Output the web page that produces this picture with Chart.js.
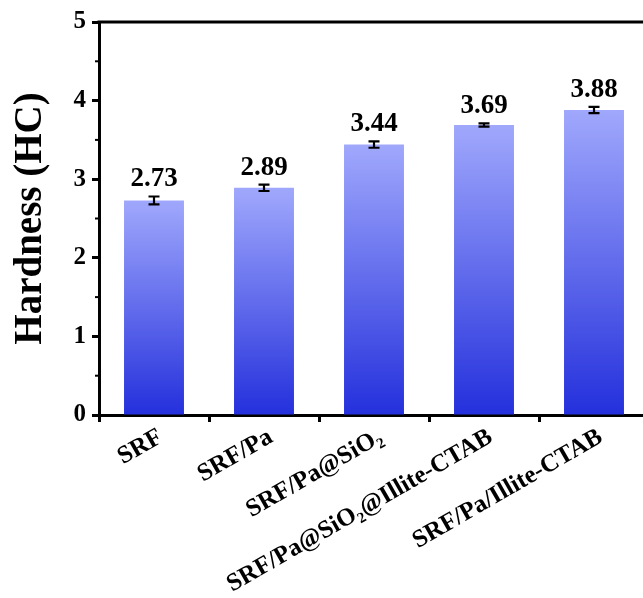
<!DOCTYPE html>
<html>
<head>
<meta charset="utf-8">
<script src="https://cdn.jsdelivr.net/npm/chart.js@4.4.1/dist/chart.umd.min.js"></script>
<style>
    html, body { margin: 0; padding: 0; background: #fff; overflow: hidden; }
</style>
</head>
<body>
<canvas id="hardnessChart" width="660" height="598"></canvas>
<script>
const samples = ['SRF', 'SRF/Pa', 'SRF/Pa@SiO\u2082', 'SRF/Pa@SiO\u2082@Illite-CTAB', 'SRF/Pa/Illite-CTAB'];
const hardness = [2.73, 2.89, 3.44, 3.69, 3.88];
const hardnessErr = [0.05, 0.04, 0.04, 0.02, 0.04];
const yTicks = [0, 1, 2, 3, 4, 5];

const serif = "'Liberation Serif', 'DejaVu Serif', serif";

// bottom-to-top gradient for every bar
function barGradient(ctx) {
    const chart = ctx.chart;
    const y = chart.scales.y;
    if (!chart.chartArea || !y || !ctx.parsed) return '#6c72ee';
    const top = y.getPixelForValue(ctx.parsed.y);
    const bottom = y.getPixelForValue(0);
    if (!isFinite(top) || !isFinite(bottom)) return '#6c72ee';
    const g = chart.ctx.createLinearGradient(0, top, 0, bottom);
    g.addColorStop(0, 'rgb(160,168,252)');
    g.addColorStop(1, 'rgb(36,48,220)');
    return g;
}

const extras = {
    id: 'extras',
    afterDatasetsDraw(chart) {
        const c = chart.ctx;
        const x = chart.scales.x;
        const y = chart.scales.y;
        const area = chart.chartArea;
        c.save();
        c.strokeStyle = '#000';

        // error bars
        c.lineWidth = 2.2;
        hardness.forEach((v, i) => {
            const px = x.getPixelForValue(i);
            const hi = y.getPixelForValue(v + hardnessErr[i]);
            const lo = y.getPixelForValue(v - hardnessErr[i]);
            c.beginPath();
            c.moveTo(px, hi); c.lineTo(px, lo);
            c.moveTo(px - 5.5, hi); c.lineTo(px + 5.5, hi);
            c.moveTo(px - 5.5, lo); c.lineTo(px + 5.5, lo);
            c.stroke();
        });

        // value labels
        c.fillStyle = '#000';
        c.font = 'bold 27px ' + serif;
        c.textAlign = 'center';
        c.textBaseline = 'alphabetic';
        hardness.forEach((v, i) => {
            const px = x.getPixelForValue(i);
            const hi = y.getPixelForValue(v + hardnessErr[i]);
            c.fillText(v.toFixed(2), px, hi - 10);
        });

        // rotated category labels
        c.font = 'bold 25px ' + serif;
        c.textAlign = 'right';
        samples.forEach((s, i) => {
            const px = x.getPixelForValue(i);
            c.save();
            c.translate(px + 10, area.bottom + 26);
            c.rotate(-Math.PI / 6);
            c.fillText(s, 0, 0);
            c.restore();
        });

        // top frame line
        c.lineWidth = 3;
        c.beginPath();
        c.moveTo(area.left - 1.5, area.top);
        c.lineTo(area.right + 2, area.top);
        c.stroke();

        // minor ticks
        c.lineWidth = 2;
        for (let v = 0.5; v < 5; v += 1) {
            const py = y.getPixelForValue(v);
            c.beginPath();
            c.moveTo(area.left, py); c.lineTo(area.left - 4, py);
            c.stroke();
        }
        for (let i = 0; i <= samples.length; i++) {
            const px = x.getPixelForValue(i - 0.5);
            c.beginPath();
            c.moveTo(px, area.bottom); c.lineTo(px, area.bottom + 4);
            c.stroke();
        }
        c.restore();
    }
};

const hardnessChart = new Chart(document.getElementById('hardnessChart').getContext('2d'), {
    type: 'bar',
    data: {
        labels: samples,
        datasets: [{
            label: 'Hardness',
            data: hardness,
            backgroundColor: barGradient,
            borderWidth: 0,
            barPercentage: 0.545,
            categoryPercentage: 1
        }]
    },
    options: {
        responsive: false,
        animation: false,
        layout: {
            padding: { top: 22, right: 11, left: 0, bottom: 0 }
        },
        plugins: {
            legend: { display: false },
            tooltip: { enabled: false }
        },
        scales: {
            x: {
                grid: {
                    display: true,
                    drawOnChartArea: false,
                    tickLength: 7,
                    tickWidth: 3,
                    color: '#000'
                },
                border: { display: true, color: '#000', width: 3 },
                ticks: {
                    display: false,
                    autoSkip: false
                },
                afterFit(scale) { scale.height = 183; }
            },
            y: {
                min: 0,
                max: 5,
                afterBuildTicks(scale) {
                    scale.ticks = yTicks.map(v => ({ value: v }));
                },
                grid: {
                    display: true,
                    drawOnChartArea: false,
                    tickLength: 7,
                    tickWidth: 3,
                    color: '#000'
                },
                border: { display: true, color: '#000', width: 3 },
                ticks: {
                    color: '#000',
                    font: { family: serif, size: 25, weight: 'bold' },
                    padding: 6
                },
                title: {
                    display: true,
                    text: 'Hardness (HC)',
                    color: '#000',
                    font: { family: serif, size: 39, weight: 'bold' },
                    padding: { top: 8, bottom: 0 }
                },
                afterFit(scale) { scale.width = 99; }
            }
        }
    },
    plugins: [extras]
});
</script>
</body>
</html>
